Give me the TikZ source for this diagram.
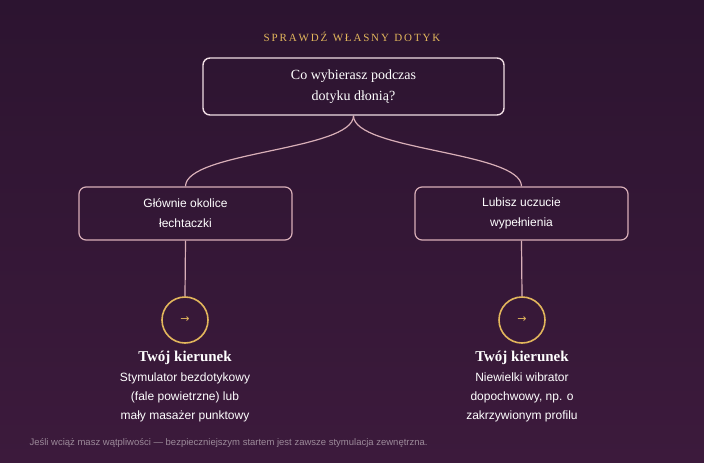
\documentclass[tikz,border=0pt]{standalone}
\usepackage{fontspec}
\setmainfont{Liberation Serif}
\setsansfont{Liberation Sans}
\newfontfamily\symfont{DejaVu Sans}
\usetikzlibrary{positioning}
\definecolor{bgtop}{HTML}{2C1430}
\definecolor{bgbot}{HTML}{3C1A3C}
\definecolor{gold}{HTML}{E2B65C}
\definecolor{rosewhite}{HTML}{F0DDE4}
\definecolor{rose}{HTML}{D9AFB8}
\definecolor{footgrey}{HTML}{9C8A9A}
\tikzset{
  question/.style={rectangle, rounded corners=7pt, draw=rosewhite, line width=1.4pt, minimum width=301pt, minimum height=57pt, align=center, text=white, font=\fontsize{14}{21}\selectfont},
  choice/.style={rectangle, rounded corners=7pt, draw=rose, line width=1.2pt, minimum width=213pt, minimum height=53pt, align=center, text=white, font=\sffamily\fontsize{12}{20}\selectfont},
  result/.style={circle, draw=gold, line width=1.6pt, minimum size=46pt, inner sep=0pt, text=gold, font=\symfont\fontsize{11}{11}\selectfont},
  heading/.style={text=white, font=\bfseries\fontsize{15}{15}\selectfont},
  desc/.style={align=center, text=white, font=\sffamily\fontsize{12}{19}\selectfont},
  link/.style={draw=rose, line width=1.2pt}
}
\begin{document}
\begin{tikzpicture}[x=1pt, y=-1pt]
    \shade[top color=bgtop, bottom color=bgbot] (0,0) rectangle (704,463);
    \useasboundingbox (0,0) rectangle (704,463);
    % Nodes
    \node (title) [text=gold, font=\fontsize{11}{11}\selectfont] at (352,37) {S\,P\,R\,A\,W\,D\,Ź\ \ W\,Ł\,A\,S\,N\,Y\ \ D\,O\,T\,Y\,K};
    \node (ask) [question] at (353.5,86.5) {Co wybierasz podczas\\dotyku dłonią?};
    \node (clit) [choice] at (185.5,213.5) {Głównie okolice\\łechtaczki};
    \node (fill) [choice] at (521.5,213.5) {Lubisz uczucie\\wypełnienia};
    \node (clitRes) [result] at (185,320) {→};
    \node (fillRes) [result] at (522,320) {→};
    \node (clitHead) [heading] at (185,358) {Twój kierunek};
    \node (fillHead) [heading] at (522,358) {Twój kierunek};
    \node (clitDesc) [desc, below=1pt of clitHead] {Stymulator bezdotykowy\\(fale powietrzne) lub\\mały masażer punktowy};
    \node (fillDesc) [desc, below=1pt of fillHead] {Niewielki wibrator\\dopochwowy, np. o\\zakrzywionym profilu};
    \node (note) [anchor=west, text=footgrey, font=\sffamily\fontsize{9.5}{10}\selectfont] at (26,443) {Jeśli wciąż masz wątpliwości — bezpieczniejszym startem jest zawsze stymulacja zewnętrzna.};

    % Connectors
    \draw [link] (ask.south) .. controls ++(0,35) and ++(0,-35) .. (clit.north);
    \draw [link] (ask.south) .. controls ++(0,35) and ++(0,-35) .. (fill.north);
    \draw [link] (clit.south) -- (clitRes.north);
    \draw [link] (fill.south) -- (fillRes.north);
\end{tikzpicture}
\end{document}
